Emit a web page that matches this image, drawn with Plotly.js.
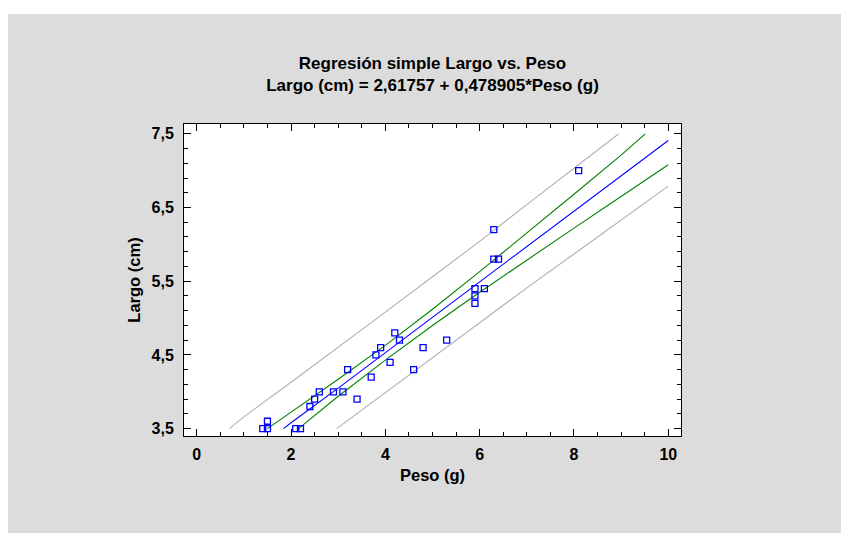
<!DOCTYPE html>
<html>
<head>
<meta charset="utf-8">
<script src="https://cdn.plot.ly/plotly-3.0.1.min.js"></script>
<style>
  html, body { margin: 0; padding: 0; background: #ffffff; }
  #chart { position: absolute; left: 8px; top: 14px; width: 833px; height: 519px; }
</style>
</head>
<body>
<div id="chart"></div>
<script>
// Observed data points (Peso g, Largo cm)
const pesoObs  = [1.4, 1.5, 1.5, 2.1, 2.2, 2.4, 2.5, 2.6, 2.9, 3.1, 3.4, 3.2, 3.7, 3.8, 3.9, 4.1, 4.2, 4.3, 4.6, 4.8, 5.3, 5.9, 5.9, 5.9, 6.1, 6.3, 6.4, 8.1, 6.3];
const largoObs = [3.5, 3.5, 3.6, 3.5, 3.5, 3.8, 3.9, 4.0, 4.0, 4.0, 3.9, 4.3, 4.2, 4.5, 4.6, 4.4, 4.8, 4.7, 4.3, 4.6, 4.7, 5.4, 5.3, 5.2, 5.4, 5.8, 5.8, 7.0, 6.2];

// Fitted line
const fitX = [1.84, 2, 3, 4, 5, 6, 7, 8, 9, 10];
const fitY = [3.50, 3.58, 4.05, 4.53, 5.01, 5.49, 5.97, 6.45, 6.93, 7.41];

// Confidence limits for mean (green)
const confUpX = [1.50, 2, 3, 4, 5, 6, 7, 8, 9, 9.51];
const confUpY = [3.50, 3.72, 4.17, 4.63, 5.12, 5.63, 6.15, 6.68, 7.21, 7.50];
const confLoX = [2.16, 3, 4, 5, 6, 7, 8, 9, 10];
const confLoY = [3.50, 3.94, 4.43, 4.90, 5.35, 5.79, 6.22, 6.65, 7.08];

// Prediction limits (gray)
const predUpX = [0.69, 1, 2, 3, 4, 5, 6, 7, 8, 8.95];
const predUpY = [3.50, 3.66, 4.13, 4.60, 5.08, 5.56, 6.04, 6.54, 7.03, 7.50];
const predLoX = [2.97, 4, 5, 6, 7, 8, 9, 10];
const predLoY = [3.50, 3.99, 4.47, 4.94, 5.41, 5.87, 6.33, 6.79];

const xTickVals = [0, 2, 4, 6, 8, 10];
const yTickVals = [3.5, 4.5, 5.5, 6.5, 7.5];

const FONT = 'Liberation Sans, Arial, sans-serif';
const grayC = '#b0b0b0', greenC = '#008000', blueC = '#0000ff';

const traces = [
  {x: predUpX, y: predUpY, mode: 'lines', line: {color: grayC, width: 1.1}},
  {x: predLoX, y: predLoY, mode: 'lines', line: {color: grayC, width: 1.1}},
  {x: confUpX, y: confUpY, mode: 'lines', line: {color: greenC, width: 1.1}},
  {x: confLoX, y: confLoY, mode: 'lines', line: {color: greenC, width: 1.1}},
  {x: fitX, y: fitY, mode: 'lines', line: {color: blueC, width: 1.1}},
  {x: pesoObs, y: largoObs, mode: 'markers',
   marker: {symbol: 'square-open', size: 6, color: blueC, line: {color: blueC, width: 1.3}}}
];

const axisCommon = {
  showgrid: false, zeroline: false, showline: true, linecolor: '#000', linewidth: 1,
  mirror: 'allticks', ticks: 'inside', ticklen: 7, tickwidth: 1, tickcolor: '#000',
  ticklabelstandoff: 6,
  tickfont: {family: FONT, size: 16, color: '#000', weight: 'bold'}
};

const layout = {
  width: 833, height: 519,
  paper_bgcolor: '#dcdcdc', plot_bgcolor: '#ffffff',
  margin: {l: 176, r: 160, t: 110, b: 97},
  showlegend: false,
  separators: ',.',
  title: {
    text: '<b>Regresión simple Largo vs. Peso</b><br><b>Largo (cm) = 2,61757 + 0,478905*Peso (g)</b>',
    font: {family: FONT, size: 17, color: '#000'},
    x: 0.5, xref: 'paper', xanchor: 'center',
    y: 1, yref: 'container', yanchor: 'top', pad: {t: 55}
  },
  xaxis: Object.assign({}, axisCommon, {
    range: [-0.27, 10.27], tickmode: 'array', tickvals: xTickVals,
    ticklabelstandoff: 4,
    minor: {dtick: 0.5, tick0: 0, ticks: 'inside', ticklen: 4, tickcolor: '#000', showgrid: false},
    title: {text: '<b>Peso (g)</b>', font: {family: FONT, size: 16.5, color: '#000'}, standoff: 7}
  }),
  yaxis: Object.assign({}, axisCommon, {
    range: [3.4, 7.633], tickmode: 'array', tickvals: yTickVals,
    minor: {dtick: 0.2, tick0: 3.5, ticks: 'inside', ticklen: 4, tickcolor: '#000', showgrid: false},
    title: {text: '<b>Largo (cm)</b>', font: {family: FONT, size: 16.5, color: '#000'}, standoff: 6}
  })
};

Plotly.newPlot('chart', traces, layout, {displayModeBar: false, staticPlot: true});
</script>
</body>
</html>
